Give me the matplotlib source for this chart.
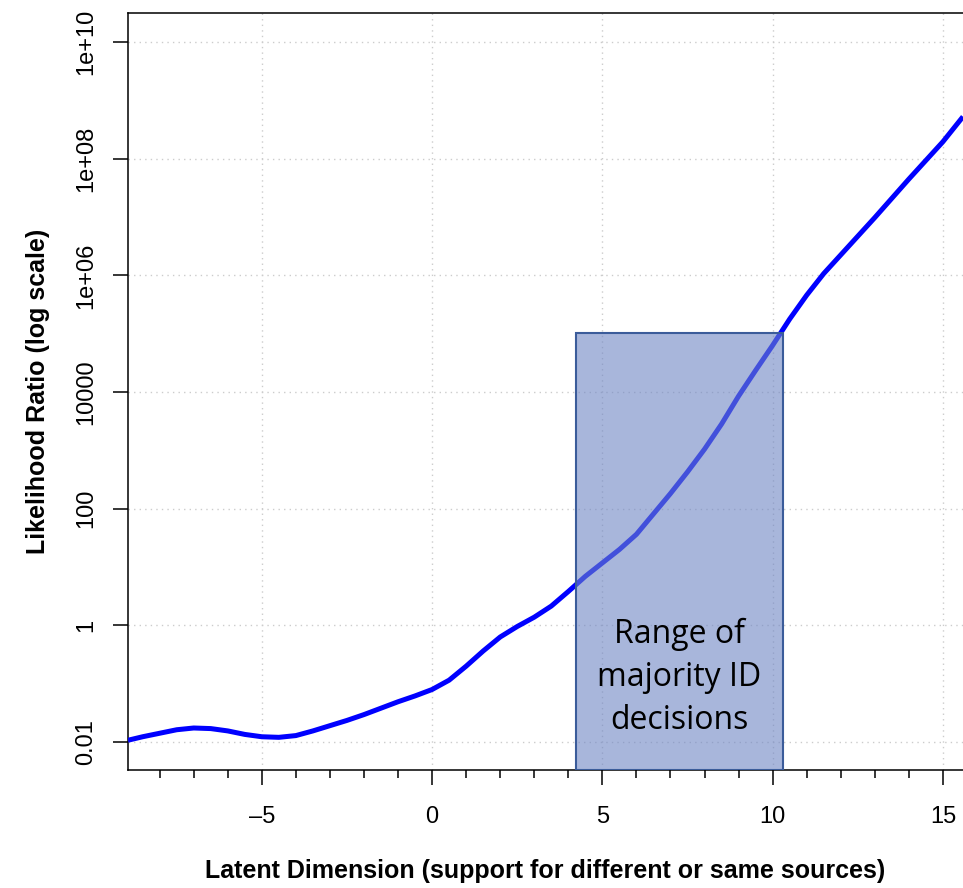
import numpy as np
import matplotlib
matplotlib.use('Agg')
import matplotlib.pyplot as plt
from matplotlib.patches import Rectangle
from matplotlib.ticker import MultipleLocator

# latent dimension vs log10(likelihood ratio)
latent = [-8.93, -8.5, -8.0, -7.5, -7.0, -6.5, -6.0, -5.5, -5.0, -4.5, -4.0,
          -3.5, -3.0, -2.5, -2.0, -1.5, -1.0, -0.5, 0.0, 0.5, 1.0, 1.5, 2.0,
          2.5, 3.0, 3.5, 4.0, 4.5, 5.0, 5.5, 6.0, 6.5, 7.0, 7.5, 8.0, 8.5,
          9.0, 9.5, 10.0, 10.5, 11.0, 11.5, 12.0, 12.5, 13.0, 13.5, 14.0,
          14.5, 15.0, 15.59]
log_lr = [-1.97, -1.91, -1.85, -1.79, -1.76, -1.77, -1.81, -1.87, -1.91, -1.92, -1.89,
          -1.81, -1.72, -1.63, -1.53, -1.42, -1.31, -1.21, -1.10, -0.94, -0.70, -0.44, -0.20,
          -0.02, 0.14, 0.33, 0.58, 0.84, 1.07, 1.30, 1.56, 1.91, 2.26, 2.63, 3.02, 3.45,
          3.93, 4.37, 4.80, 5.25, 5.66, 6.03, 6.35, 6.67, 6.99, 7.32, 7.65,
          7.97, 8.29, 8.72]

ytick_vals = [1e-2, 1, 1e2, 1e4, 1e6, 1e8, 1e10]
ytick_labels = ['0.01', '1', '100', '10000', '1e+06', '1e+08', '1e+10']
xtick_vals = [-5, 0, 5, 10, 15]
xtick_labels = ['\u20135', '0', '5', '10', '15']

# range of majority ID decisions
box_x = [4.23, 10.3]
box_top = 1.03e5

plt.rcParams['font.family'] = ['Liberation Sans', 'DejaVu Sans']

fig = plt.figure(figsize=(9.63, 8.88), dpi=100)
ax = fig.add_axes([128/963, 1 - 770/888, (963-128)/963, (770-13)/888])

xlo, xhi = -8.93, 15.59
ylo, yhi = 10**-2.48, 10**10.497
ax.set_xlim(xlo, xhi)
ax.set_yscale('log')
ax.set_ylim(ylo, yhi)

ax.plot(latent, 10**np.array(log_lr), color='#0000ff', lw=3.6, zorder=3,
        solid_joinstyle='round', solid_capstyle='butt')

rect = Rectangle((box_x[0], ylo), box_x[1] - box_x[0], box_top - ylo,
                 facecolor='#6f86c4', alpha=0.6, edgecolor='none', zorder=4)
ax.add_patch(rect)
rect2 = Rectangle((box_x[0], ylo), box_x[1] - box_x[0], box_top - ylo,
                  facecolor='none', edgecolor='#3b5c9a', lw=1.5, zorder=5)
ax.add_patch(rect2)
ax.text(sum(box_x) / 2, 10**-0.9, 'Range of\nmajority ID\ndecisions',
        ha='center', va='center', fontsize=23, family='Open Sans',
        linespacing=1.4, zorder=6)

ax.set_xticks(xtick_vals)
ax.set_xticklabels(xtick_labels, fontsize=17)
ax.xaxis.set_minor_locator(MultipleLocator(1))
ax.set_yticks(ytick_vals)
ax.set_yticklabels(ytick_labels, fontsize=17, rotation=90, va='center')
ax.yaxis.set_minor_locator(matplotlib.ticker.NullLocator())

ax.tick_params(axis='x', which='major', length=11, width=1.1, pad=15)
ax.tick_params(axis='x', which='minor', length=6, width=1.1)
ax.tick_params(axis='y', which='major', length=11, width=1.1, pad=11)

ax.grid(True, which='major', color='#cccccc', linestyle=(0, (1, 3)), lw=1)
ax.set_axisbelow(True)

for s in ['left', 'bottom', 'top']:
    ax.spines[s].set_linewidth(1.1)
ax.spines['right'].set_visible(False)

ax.set_xlabel('Latent Dimension (support for different or same sources)',
              fontsize=18, fontweight='bold', labelpad=22)
ax.set_ylabel('Likelihood Ratio (log scale)', fontsize=18, fontweight='bold',
              labelpad=18)

fig.savefig('out.png', dpi=100)
